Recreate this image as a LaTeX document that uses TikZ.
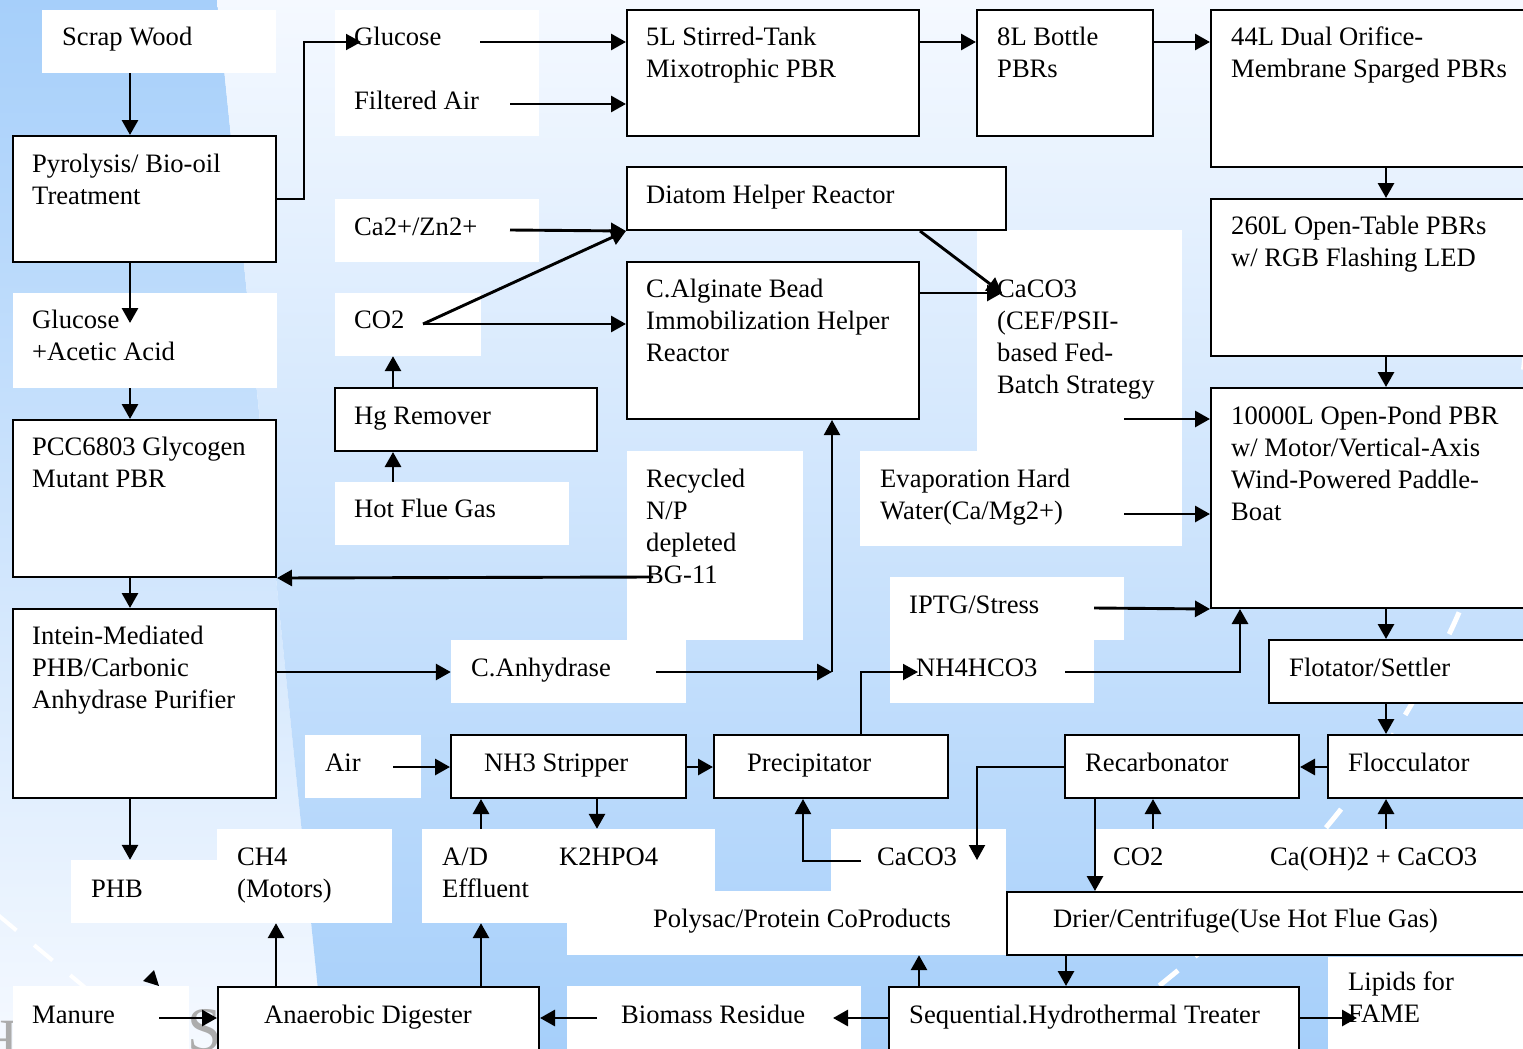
\documentclass[tikz,border=0pt]{standalone}
\usepackage{fontspec}
\setmainfont{Liberation Serif}
\usetikzlibrary{arrows.meta,fit}
\definecolor{bgblue}{RGB}{166,207,250}
\definecolor{bglight}{RGB}{245,249,255}
\newcommand\ml[1]{\begin{tabular}[t]{@{}l@{}}#1\end{tabular}}
\begin{document}
\begin{tikzpicture}[x=1pt,y=-1pt,
  bbox/.style={draw=black, line width=2pt, fill=white, inner sep=0pt},
  wbox/.style={fill=white, draw=none, inner sep=0pt},
  txt/.style={anchor=base west, inner sep=0pt, font=\fontsize{26.6}{32}\selectfont},
  arr/.style={line width=2.9pt, -{Triangle[length=15pt,width=16pt]}},
  tarr/.style={line width=2pt, -{Triangle[length=15pt,width=16pt]}},
  deco/.style={white, line width=5pt}]
\useasboundingbox (0,0) rectangle (1523,1049);
\clip (0,0) rectangle (1523,1049);
% background
\shade[top color=bgblue, bottom color=bglight] (0,0) -- (217,0) -- (324,1049) -- (0,1049) -- cycle;
\shade[top color=bglight, bottom color=bgblue] (217,0) -- (1523,0) -- (1523,1049) -- (324,1049) -- cycle;
\draw[deco, dash pattern=on 24pt off 22pt] plot[smooth] coordinates {(1530,300) (1512,450) (1460,610) (1398,727) (1338,813) (1260,900) (1170,977) (1090,1040)};
\draw[white, line width=4pt, dash pattern=on 24pt off 23pt] (-2,915) -- (100,1000);
\node[anchor=base east, inner sep=0pt, text=gray!65, font=\fontsize{60}{60}\selectfont] (logoH) at (19,1060) {H};
\node[anchor=base west, inner sep=0pt, text=gray!65, font=\fontsize{62}{62}\selectfont] (logoS) at (187,1050) {S};
\fill (143,981) -- (154,970) -- (159,986) -- cycle;

% white label boxes
\node[wbox, fit={(42,10) (276,73)}] (scrap) {};
\node[wbox, fit={(335,10) (539,136)}] (gluc) {};
\node[wbox, fit={(335,199) (539,262)}] (cazn) {};
\node[wbox, fit={(335,293) (481,356)}] (co2) {};
\node[wbox, fit={(13,293) (277,388)}] (glac) {};
\node[wbox, fit={(335,482) (569,545)}] (hot) {};
\node[wbox, fit={(977,230) (1182,451)}] (caco) {};
\node[wbox, fit={(627,451) (803,640)}] (recy) {};
\node[wbox, fit={(860,451) (1182,546)}] (evap) {};
\node[wbox, fit={(890,577) (1124,640)}] (iptg) {};
\node[wbox, fit={(890,640) (1094,703)}] (nhhc) {};
\node[wbox, fit={(451,640) (686,703)}] (canh) {};
\node[wbox, fit={(305,735) (421,798)}] (air) {};
\node[wbox, fit={(71,860) (217,923)}] (phb) {};
\node[wbox, fit={(217,829) (392,923)}] (ch4) {};
\node[wbox, fit={(422,829) (567,923)}] (ade) {};
\node[wbox, fit={(540,829) (715,891)}] (khpo) {};
\node[wbox, fit={(831,829) (1006,955)}] (cacob) {};
\node[wbox, fit={(567,891) (1006,955)}] (poly) {};
\node[wbox, fit={(1095,829) (1540,892)}] (co2b) {};
\node[wbox, fit={(1328,957) (1540,1060)}] (lip) {};
\node[wbox, fit={(567,986) (861,1060)}] (bio) {};
\node[wbox, fit={(13,986) (189,1060)}] (man) {};

% framed boxes
\node[bbox, fit={(13,136) (276,262)}] (pyro) {};
\node[bbox, fit={(13,420) (276,577)}] (pcc) {};
\node[bbox, fit={(13,609) (276,798)}] (intein) {};
\node[bbox, fit={(627,10) (919,136)}] (five) {};
\node[bbox, fit={(977,10) (1153,136)}] (eight) {};
\node[bbox, fit={(1211,10) (1540,167)}] (ff) {};
\node[bbox, fit={(627,167) (1006,230)}] (diatom) {};
\node[bbox, fit={(627,262) (919,419)}] (alg) {};
\node[bbox, fit={(1211,199) (1540,356)}] (t260) {};
\node[bbox, fit={(335,388) (597,451)}] (hg) {};
\node[bbox, fit={(1211,388) (1540,608)}] (pond) {};
\node[bbox, fit={(1269,640) (1540,703)}] (flot) {};
\node[bbox, fit={(451,735) (686,798)}] (nh3) {};
\node[bbox, fit={(714,735) (948,798)}] (prec) {};
\node[bbox, fit={(1065,735) (1299,798)}] (recarb) {};
\node[bbox, fit={(1328,735) (1540,798)}] (flocc) {};
\node[bbox, fit={(1007,892) (1540,955)}] (drier) {};
\node[bbox, fit={(218,987) (539,1060)}] (ad) {};
\node[bbox, fit={(889,987) (1299,1060)}] (seq) {};

% texts
\node[txt] (t-scrap) at (62,46) {Scrap Wood};
\node[txt] (t-gluc) at (354,46) {\ml{Glucose\\ \\Filtered Air}};
\node[txt] (t-five) at (646,46) {\ml{5L Stirred-Tank\\Mixotrophic PBR}};
\node[txt] (t-eight) at (997,46) {\ml{8L Bottle\\PBRs}};
\node[txt] (t-ff) at (1231,46) {\ml{44L Dual Orifice-\\Membrane Sparged PBRs}};
\node[txt] (t-pyro) at (32,172) {\ml{Pyrolysis/ Bio-oil\\Treatment}};
\node[txt] (t-diatom) at (646,203) {Diatom Helper Reactor};
\node[txt] (t-cazn) at (354,235) {Ca2+/Zn2+};
\node[txt] (t-t260) at (1231,234) {\ml{260L Open-Table PBRs\\w/ RGB Flashing LED}};
\node[txt] (t-alg) at (646,297) {\ml{C.Alginate Bead\\Immobilization Helper\\Reactor}};
\node[txt] (t-caco) at (997,297) {\ml{CaCO3\\(CEF/PSII-\\based Fed-\\Batch Strategy}};
\node[txt] (t-co2) at (354,328) {CO2};
\node[txt] (t-glac) at (32,328) {\ml{Glucose\\+Acetic Acid}};
\node[txt] (t-hg) at (354,424) {Hg Remover};
\node[txt] (t-pond) at (1231,424) {\ml{10000L Open-Pond PBR\\w/ Motor/Vertical-Axis\\Wind-Powered Paddle-\\Boat}};
\node[txt] (t-pcc) at (32,455) {\ml{PCC6803 Glycogen\\Mutant PBR}};
\node[txt] (t-recy) at (646,487) {\ml{Recycled\\N/P\\depleted\\BG-11}};
\node[txt] (t-evap) at (880,487) {\ml{Evaporation Hard\\Water(Ca/Mg2+)}};
\node[txt] (t-hot) at (354,517) {Hot Flue Gas};
\node[txt] (t-iptg) at (909,613) {IPTG/Stress};
\node[txt] (t-intein) at (32,644) {\ml{Intein-Mediated\\PHB/Carbonic\\Anhydrase Purifier}};
\node[txt] (t-canh) at (471,676) {C.Anhydrase};
\node[txt] (t-nhhc) at (916,676) {NH4HCO3};
\node[txt] (t-flot) at (1289,676) {Flotator/Settler};
\node[txt] (t-air) at (325,771) {Air};
\node[txt] (t-nh3) at (484,771) {NH3 Stripper};
\node[txt] (t-prec) at (747,771) {Precipitator};
\node[txt] (t-recarb) at (1085,771) {Recarbonator};
\node[txt] (t-flocc) at (1348,771) {Flocculator};
\node[txt] (t-ch4) at (237,865) {\ml{CH4\\(Motors)}};
\node[txt] (t-ade) at (442,865) {\ml{A/D\\Effluent}};
\node[txt] (t-khpo) at (559,865) {K2HPO4};
\node[txt] (t-cacob) at (877,865) {CaCO3};
\node[txt] (t-co2b) at (1113,865) {CO2};
\node[txt] (t-caoh) at (1270,865) {Ca(OH)2 + CaCO3};
\node[txt] (t-phb) at (91,897) {PHB};
\node[txt] (t-poly) at (653,927) {Polysac/Protein CoProducts};
\node[txt] (t-drier) at (1053,927) {Drier/Centrifuge(Use Hot Flue Gas)};
\node[txt] (t-lip) at (1348,990) {\ml{Lipids for\\FAME}};
\node[txt] (t-man) at (32,1023) {Manure};
\node[txt] (t-ad) at (264,1023) {Anaerobic Digester};
\node[txt] (t-bio) at (621,1023) {Biomass Residue};
\node[txt] (t-seq) at (909,1023) {Sequential.Hydrothermal Treater};

% free ends
\coordinate (glucin) at (361,42);
\coordinate (glucout) at (480,42);
\coordinate (airout) at (510,104);
\coordinate (glacin) at (130,323);
\coordinate (caznout) at (510,230);
\coordinate (co2out) at (423,324);
\coordinate (cacoin) at (1002,293);
\coordinate (cacoout) at (1124,419);
\coordinate (evapout) at (1124,514);
\coordinate (iptgout) at (1094,608);
\coordinate (nhout) at (1065,672);
\coordinate (bgout) at (653,577);
\coordinate (canhout) at (656,672);
\coordinate (elbow) at (832,672);
\coordinate (airo) at (393,767);
\coordinate (nhin) at (918,672);
\coordinate (cacobo) at (861,861);
\coordinate (cacobi) at (977,860);
\coordinate (bioin) at (833,1018);
\coordinate (lipin) at (1357,1018);
\coordinate (bioout) at (597,1018);
\coordinate (manout) at (159,1018);

% connectors
\draw[arr] (scrap.south -| 130,0) -- (pyro.north -| 130,0);
\draw[tarr] (pyro.east |- 0,199) -| (304,42) -- (glucin);
\draw[arr] (glucout) -- (five.west |- glucout);
\draw[arr] (airout) -- (five.west |- airout);
\draw[arr] (five.east |- 0,42) -- (eight.west |- 0,42);
\draw[arr] (eight.east |- 0,42) -- (ff.west |- 0,42);
\draw[arr] (ff.south -| 1386,0) -- (t260.north -| 1386,0);
\draw[arr] (t260.south -| 1386,0) -- (pond.north -| 1386,0);
\draw[arr] (pyro.south -| 130,0) -- (glacin);
\draw[arr] (glac.south -| 130,0) -- (pcc.north -| 130,0);
\draw[arr] (pcc.south -| 130,0) -- (intein.north -| 130,0);
\draw[arr] (intein.south -| 130,0) -- (phb.north -| 130,0);
\draw[arr] (caznout) -- (diatom.south west);
\draw[arr] (co2out) -- (diatom.south west);
\draw[arr] (co2out) -- (alg.west |- co2out);
\draw[arr] (hg.north -| 393,0) -- (co2.south -| 393,0);
\draw[arr] (hot.north -| 393,0) -- (hg.south -| 393,0);
\draw[arr] (diatom.south -| 920,0) -- (cacoin);
\draw[arr] (alg.east |- cacoin) -- (cacoin);
\draw[arr] (cacoout) -- (pond.west |- cacoout);
\draw[arr] (evapout) -- (pond.west |- evapout);
\draw[arr] (iptgout) -- (pond.south west);
\draw[arr] (nhout) -| (pond.south -| 1240,0);
\draw[arr] (bgout) -- (pcc.south east);
\draw[arr] (intein.east |- 0,672) -- (canh.west |- 0,672);
\draw[arr] (canhout) -- (elbow);
\draw[tarr] (elbow) -- (alg.south -| elbow);
\draw[arr] (airo) -- (nh3.west |- airo);
\draw[arr] (nh3.east |- 0,767) -- (prec.west |- 0,767);
\draw[arr] (ade.north -| 481,0) -- (nh3.south -| 481,0);
\draw[arr] (nh3.south -| 597,0) -- (khpo.north -| 597,0);
\draw[tarr] (prec.north -| 861,0) |- (nhin);
\draw[tarr] (cacobo) -| (prec.south -| 803,0);
\draw[tarr] (recarb.west |- 0,767) -| (cacobi);
\draw[arr] (recarb.south -| 1095,0) -- (drier.north -| 1095,0);
\draw[arr] (co2b.north -| 1153,0) -- (recarb.south -| 1153,0);
\draw[arr] (flocc.west |- 0,767) -- (recarb.east |- 0,767);
\draw[arr] (co2b.north -| 1386,0) -- (flocc.south -| 1386,0);
\draw[arr] (pond.south -| 1386,0) -- (flot.north -| 1386,0);
\draw[arr] (flot.south -| 1386,0) -- (flocc.north -| 1386,0);
\draw[arr] (drier.south -| 1066,0) -- (seq.north -| 1066,0);
\draw[arr] (seq.north -| 919,0) -- (poly.south -| 919,0);
\draw[arr] (seq.west |- 0,1018) -- (bioin);
\draw[arr] (seq.east |- 0,1018) -- (lipin);
\draw[arr] (bioout) -- (ad.east |- bioout);
\draw[arr] (manout) -- (ad.west |- manout);
\draw[arr] (ad.north -| 276,0) -- (ch4.south -| 276,0);
\draw[arr] (ad.north -| 481,0) -- (ade.south -| 481,0);
\end{tikzpicture}
\end{document}
